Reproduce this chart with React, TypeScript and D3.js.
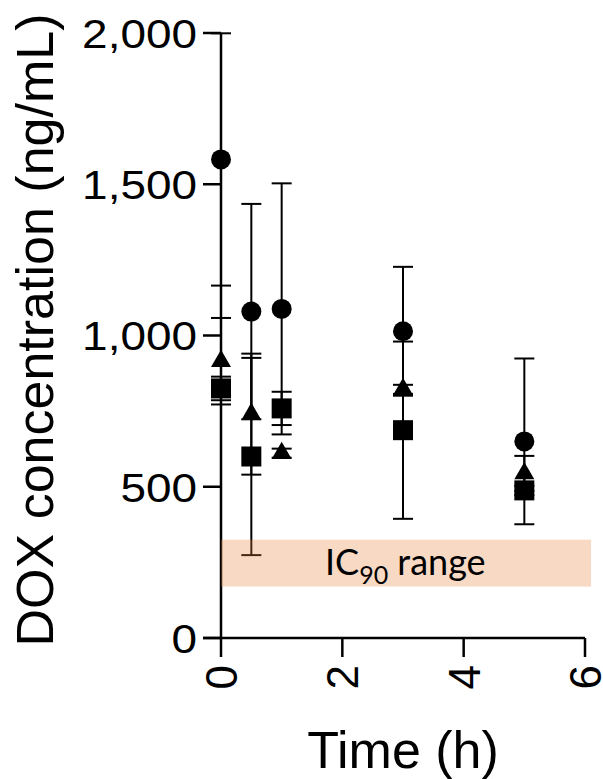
import React, { useEffect, useRef } from "react";
import * as d3 from "d3";

// sampling times (h)
const times = [0, 0.5, 1, 3, 5];

// mean and SD for each group
const circleMean = [1582, 1079, 1088, 1014, 650];
const circleSD = [417, 356, 415, 213, 274];
const triangleMean = [915, 740, 611, 822, 544];
const triangleSD = [143, 200, 15, 15, 58];
const squareMean = [825, 600, 759, 687, 488];
const squareSD = [39, 326, 55, 293, 15];

const yTicks = [0, 500, 1000, 1500, 2000];
const xTicks = [0, 2, 4, 6];

// IC90 band limits (ng/mL) and its right edge (h)
const icBand = [170, 325];
const icBandEnd = 6.1;

export default function App() {
  const svgRef = useRef<SVGSVGElement | null>(null);

  useEffect(() => {
    const width = 603;
    const height = 779;

    const svg = d3.select(svgRef.current)
      .attr("width", width)
      .attr("height", height)
      .attr("viewBox", [0, 0, width, height].join(" "));

    svg.selectAll("*").remove();

    const x = d3.scaleLinear().domain([0, 6]).range([221, 585]);
    const y = d3.scaleLinear().domain([0, 2000]).range([638, 33]);

    const series = [
      { mean: circleMean, sd: circleSD, shape: d3.symbolCircle, size: Math.PI * 100 },
      { mean: triangleMean, sd: triangleSD, shape: d3.symbolTriangle, size: (Math.sqrt(3) / 4) * 400 },
      { mean: squareMean, sd: squareSD, shape: d3.symbolSquare, size: 400 },
    ];

    const font = "'Liberation Sans', Arial, sans-serif";

    // axes
    const axes = svg.append("g").attr("stroke", "#000").attr("stroke-width", 2.5).attr("fill", "none");
    axes.append("line").attr("x1", x(0)).attr("x2", x(0)).attr("y1", y(2000)).attr("y2", y(0));
    axes.append("line").attr("x1", x(0) - 18).attr("x2", x(6)).attr("y1", y(0)).attr("y2", y(0));
    yTicks.forEach(t => {
      axes.append("line").attr("x1", x(0) - 18).attr("x2", x(0)).attr("y1", y(t)).attr("y2", y(t));
    });
    xTicks.forEach(t => {
      axes.append("line").attr("x1", x(t)).attr("x2", x(t)).attr("y1", y(0)).attr("y2", y(0) + 19);
    });

    // tick labels (the y labels are a little wide in the original)
    svg.append("g")
      .selectAll("text")
      .data(yTicks)
      .join("text")
      .attr("transform", d => `translate(197,${y(d)}) scale(1.12,1)`)
      .attr("dy", "0.36em")
      .attr("text-anchor", "end")
      .attr("font-family", font)
      .attr("font-size", 41)
      .text(d => d3.format(",")(d));

    svg.append("g")
      .selectAll("text")
      .data(xTicks)
      .join("text")
      .attr("transform", d => `translate(${x(d)},${665}) rotate(-90)`)
      .attr("dy", "0.36em")
      .attr("text-anchor", "end")
      .attr("font-family", font)
      .attr("font-size", 44)
      .text(d => d);

    // axis titles
    svg.append("text")
      .attr("transform", `translate(53,330) rotate(-90)`)
      .attr("text-anchor", "middle")
      .attr("font-family", font)
      .attr("font-size", 52)
      .text("DOX concentration (ng/mL)");

    svg.append("text")
      .attr("x", 403)
      .attr("y", 768)
      .attr("text-anchor", "middle")
      .attr("font-family", font)
      .attr("font-size", 52)
      .text("Time (h)");

    // error bars
    const bars = svg.append("g").attr("stroke", "#000").attr("stroke-width", 2).attr("fill", "none");
    series.forEach(s => {
      times.forEach((t, i) => {
        const lo = Math.max(0, s.mean[i] - s.sd[i]);
        const hi = Math.min(2000, s.mean[i] + s.sd[i]);
        const cx = x(t);
        bars.append("line").attr("x1", cx).attr("x2", cx).attr("y1", y(lo)).attr("y2", y(hi));
        bars.append("line").attr("x1", cx - 10).attr("x2", cx + 10).attr("y1", y(lo)).attr("y2", y(lo));
        bars.append("line").attr("x1", cx - 10).attr("x2", cx + 10).attr("y1", y(hi)).attr("y2", y(hi));
      });
    });

    // symbols
    series.forEach(s => {
      const sym = d3.symbol().type(s.shape).size(s.size);
      svg.append("g")
        .selectAll("path")
        .data(times)
        .join("path")
        .attr("transform", (t, i) => `translate(${x(t)},${y(s.mean[i])})`)
        .attr("d", sym() as string)
        .attr("fill", "#000");
    });

    // IC90 band sits on top, semi-transparent
    svg.append("rect")
      .attr("x", x(0))
      .attr("y", y(icBand[1]))
      .attr("width", x(icBandEnd) - x(0))
      .attr("height", y(icBand[0]) - y(icBand[1]))
      .attr("fill", "#E8803C")
      .attr("fill-opacity", 0.3);

    const label = svg.append("text")
      .attr("x", 325)
      .attr("y", 575)
      .attr("font-family", "Lato, 'Open Sans', sans-serif")
      .attr("font-size", 36)
      .attr("fill", "#000");
    label.append("tspan").text("IC");
    label.append("tspan").attr("font-size", 25).attr("dy", 9).text("90");
    label.append("tspan").attr("dy", -9).text(" range");

    return () => {
      d3.select(svgRef.current).selectAll("*").remove();
    };
  }, []);

  return (
    <div style={{ position: "absolute", left: 0, top: 0 }}>
      <svg ref={svgRef} />
    </div>
  );
}
